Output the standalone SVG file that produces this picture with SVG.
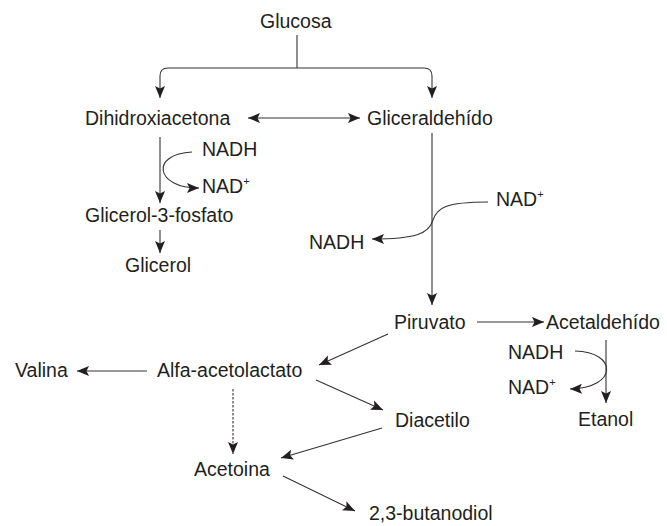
<svg xmlns="http://www.w3.org/2000/svg" width="667" height="526" viewBox="0 0 667 526">
<style>
text{font-family:"Liberation Sans",Arial,sans-serif;font-size:19.5px;fill:#231f20}
.sup{font-size:11px}
.c{fill:none;stroke:#333;stroke-width:1.1}
.d{stroke-dasharray:2.5 1.5}
</style>
<defs>
<marker id="a" markerWidth="14" markerHeight="12" refX="12" refY="5.5" orient="auto-start-reverse" markerUnits="userSpaceOnUse">
<path d="M0,0.5 L12,5.5 L0,10.5 L2.5,5.5 Z" fill="#231f20"/>
</marker>
</defs>
<rect width="667" height="526" fill="#fff"/>
<g id="connectors">
<path class="c" d="M297,35 V68"/>
<path class="c" d="M297,68 H168 Q160,68 160,76 V98" marker-end="url(#a)"/>
<path class="c" d="M297,68 H424 Q432,68 432,76 V98" marker-end="url(#a)"/>
<path class="c" d="M248,118 H360" marker-start="url(#a)" marker-end="url(#a)"/>
<path class="c" d="M160,137 V203" marker-end="url(#a)"/>
<path class="c" d="M192,152 C150,154 155,188 199,188" marker-end="url(#a)"/>
<path class="c" d="M160,230 V253" marker-end="url(#a)"/>
<path class="c" d="M432,133 V305" marker-end="url(#a)"/>
<path class="c" d="M488,202 C445,202 437,208 433,220 C429,234 415,239 372,239" marker-end="url(#a)"/>
<path class="c" d="M477,322 H544" marker-end="url(#a)"/>
<path class="c" d="M606,340 V403" marker-end="url(#a)"/>
<path class="c" d="M575,351 C618,352 618,388 570,389" marker-end="url(#a)"/>
<path class="c" d="M388,334 L319,365" marker-end="url(#a)"/>
<path class="c" d="M316,380 L383,410" marker-end="url(#a)"/>
<path class="c" d="M147,371 L77,371" marker-end="url(#a)"/>
<path class="c d" d="M233,389 V454" marker-end="url(#a)"/>
<path class="c" d="M382,428 L281,458" marker-end="url(#a)"/>
<path class="c" d="M283,476 L355,511" marker-end="url(#a)"/>
</g>
<g id="glucosa"><text x="260" y="28">Glucosa</text></g>
<g id="dihidroxiacetona"><text x="85" y="125">Dihidroxiacetona</text></g>
<g id="gliceraldehido"><text x="367" y="125">Gliceraldehído</text></g>
<g id="nadh1"><text x="202" y="156">NADH</text></g>
<g id="nad1"><text x="202" y="193">NAD<tspan class="sup" dy="-8">+</tspan></text></g>
<g id="glicerol3p"><text x="85" y="222">Glicerol-3-fosfato</text></g>
<g id="glicerol"><text x="125" y="272">Glicerol</text></g>
<g id="nad2"><text x="496" y="206">NAD<tspan class="sup" dy="-8">+</tspan></text></g>
<g id="nadh2"><text x="309" y="249">NADH</text></g>
<g id="piruvato"><text x="394" y="329">Piruvato</text></g>
<g id="acetaldehido"><text x="546" y="329">Acetaldehído</text></g>
<g id="nadh3"><text x="508" y="359">NADH</text></g>
<g id="nad3"><text x="508" y="394">NAD<tspan class="sup" dy="-8">+</tspan></text></g>
<g id="etanol"><text x="578" y="426">Etanol</text></g>
<g id="diacetilo"><text x="395" y="427">Diacetilo</text></g>
<g id="valina"><text x="15" y="377">Valina</text></g>
<g id="alfaacetolactato"><text x="157" y="377">Alfa-acetolactato</text></g>
<g id="acetoina"><text x="194" y="476">Acetoina</text></g>
<g id="butanodiol"><text x="369" y="520">2,3-butanodiol</text></g>
</svg>
